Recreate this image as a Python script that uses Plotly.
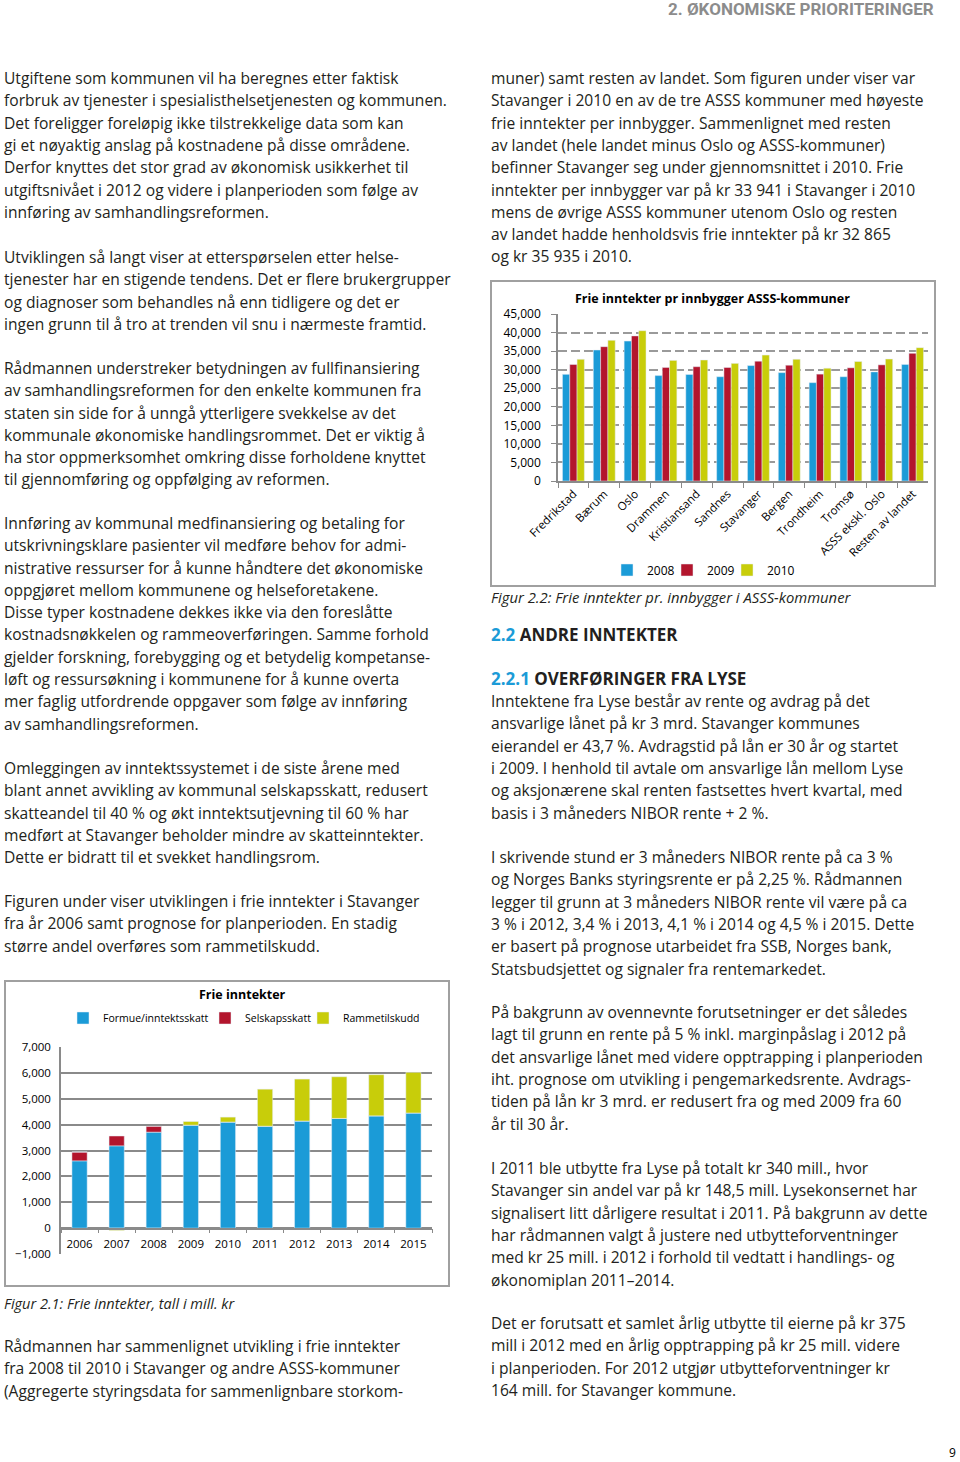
import plotly.graph_objects as go

W, H = 960, 1462
def fx(px): return px / W
def fy(py): return 1 - py / H

BLUE = "#1b9bd7"
RED = "#b3152d"
YEL = "#c8cd0a"
TXT = "#231f20"
BODY_FONT = "Open Sans"
BODY_SIZE = 15.6

# ---------------- Chart 2.1 data: Frie inntekter (mill. kr) ----------------
years1 = ["2006", "2007", "2008", "2009", "2010", "2011", "2012", "2013", "2014", "2015"]
formue = [2600, 3180, 3710, 3980, 4100, 3940, 4140, 4240, 4340, 4450]
selskap = [340, 380, 220, 0, 0, 0, 0, 0, 0, 0]
ramme = [0, -90, -40, 140, 190, 1430, 1620, 1610, 1590, 1570]

# ---------------- Chart 2.2 data: Frie inntekter pr innbygger ----------------
kommuner = ["Fredrikstad", "Bærum", "Oslo", "Drammen", "Kristiansand", "Sandnes",
            "Stavanger", "Bergen", "Trondheim", "Tromsø", "ASSS ekskl. Oslo", "Resten av landet"]
v2008 = [28750, 35300, 37700, 28400, 28700, 28100, 31100, 29200, 26500, 28100, 29400, 31400]
v2009 = [31400, 36200, 39100, 30600, 30800, 30600, 32300, 31200, 28800, 30500, 31300, 34400]
v2010 = [32800, 37900, 40500, 32500, 32600, 31700, 33941, 32800, 30400, 32200, 32865, 35935]

fig = go.Figure()

# Figure 2.1 (stacked) on x2/y2, each trace its own legend for exact placement
for name, vals, col, lg in [("Formue/inntektsskatt", formue, BLUE, "legend2"),
                            ("Selskapsskatt", selskap, RED, "legend3"),
                            ("Rammetilskudd", ramme, YEL, "legend4")]:
    fig.add_trace(go.Bar(x=years1, y=vals, name=name, marker_color=col, width=0.41,
                         xaxis="x2", yaxis="y2", legend=lg))

# Figure 2.2 (grouped) on x/y
for name, vals, col, lg in [("2008", v2008, BLUE, "legend"), ("2009", v2009, RED, "legend5"),
                            ("2010", v2010, YEL, "legend6")]:
    fig.add_trace(go.Bar(x=kommuner, y=vals, name=name, marker_color=col,
                         xaxis="x", yaxis="y", legend=lg, offsetgroup=name))

def legend_at(x, y, size, anchor="left"):
    return dict(orientation="h", x=fx(x), xanchor=anchor, y=fy(y), yanchor="middle",
                font=dict(family="Open Sans", size=size, color="#000"),
                bgcolor="rgba(0,0,0,0)", itemwidth=30, traceorder="normal")

fig.update_layout(
    width=W, height=H, margin=dict(l=0, r=0, t=0, b=0, pad=0),
    paper_bgcolor="white", plot_bgcolor="white",
    font=dict(family=BODY_FONT, color=TXT),
    barmode="relative", bargap=0.29, bargroupgap=0,
    showlegend=True,
    xaxis=dict(domain=[fx(558), fx(928)], anchor="y", type="category", automargin=False,
               tickangle=-45, tickfont=dict(family="Open Sans", size=11.5, color="#000"),
               showgrid=False, showline=True, linecolor="#8a8a8a", linewidth=1.5,
               ticks="outside", tickson="boundaries", ticklen=5, tickcolor="#8a8a8a"),
    yaxis=dict(domain=[fy(481), fy(314)], anchor="x", range=[0, 45000], dtick=5000,
               automargin=False, ticklabelstandoff=8,
               tickformat=",d", tickfont=dict(family="Open Sans", size=12, color="#000"),
               showgrid=True, gridcolor="#9a9a9a", griddash="9px,4px", gridwidth=1.5,
               showline=True, linecolor="#8a8a8a", linewidth=1.5, ticks="outside", ticklen=5,
               tickcolor="#8a8a8a", zeroline=False),
    xaxis2=dict(domain=[fx(61), fx(432)], anchor="free", position=fy(1228.7), type="category",
                automargin=False, ticklabelstandoff=5,
                tickfont=dict(family="Open Sans", size=11.5, color="#000"),
                showgrid=False, showline=True, linecolor="#8a8a8a", linewidth=1.5,
                ticks="outside", tickson="boundaries", ticklen=4, tickcolor="#8a8a8a"),
    yaxis2=dict(domain=[fy(1254), fy(1047)], anchor="x2", range=[-1000, 7000], dtick=1000,
                automargin=False, ticklabelstandoff=6,
                tickformat=",d", tickfont=dict(family="Open Sans", size=11.5, color="#000"),
                showgrid=True, gridcolor="#8a8a8a", gridwidth=1.5,
                showline=True, linecolor="#8a8a8a", linewidth=1.5, ticks="", zeroline=False),
    legend=legend_at(607, 570, 12),
    legend5=legend_at(667, 570, 12),
    legend6=legend_at(727, 570, 12),
    legend2=legend_at(63, 1018, 10.5),
    legend3=legend_at(205, 1018, 10.5),
    legend4=legend_at(303, 1018, 10.5),
)

shapes = [
    dict(type="rect", xref="paper", yref="paper", x0=fx(5), x1=fx(449), y0=fy(1286), y1=fy(981),
         line=dict(color="#a0a0a0", width=2)),
    dict(type="rect", xref="paper", yref="paper", x0=fx(491), x1=fx(935), y0=fy(586), y1=fy(281),
         line=dict(color="#a0a0a0", width=2)),
]
fig.update_layout(shapes=shapes)

ann = []
def line(text, x, y, size=BODY_SIZE, color=TXT, anchor="left", family=BODY_FONT):
    ann.append(dict(text=text, x=fx(x), y=fy(y), xref="paper", yref="paper",
                    xanchor=anchor, yanchor="middle", showarrow=False,
                    font=dict(family=family, size=size, color=color)))

def para(lines, x, y0, step=22.3):
    for i, t in enumerate(lines):
        line(t, x, y0 + i * step)

left = [
    (78, ["Utgiftene som kommunen vil ha beregnes etter faktisk",
          "forbruk av tjenester i spesialisthelsetjenesten og kommunen.",
          "Det foreligger foreløpig ikke tilstrekkelige data som kan",
          "gi et nøyaktig anslag på kostnadene på disse områdene.",
          "Derfor knyttes det stor grad av økonomisk usikkerhet til",
          "utgiftsnivået i 2012 og videre i planperioden som følge av",
          "innføring av samhandlingsreformen."]),
    (257, ["Utviklingen så langt viser at etterspørselen etter helse-",
           "tjenester har en stigende tendens. Det er flere brukergrupper",
           "og diagnoser som behandles nå enn tidligere og det er",
           "ingen grunn til å tro at trenden vil snu i nærmeste framtid."]),
    (368, ["Rådmannen understreker betydningen av fullfinansiering",
           "av samhandlingsreformen for den enkelte kommunen fra",
           "staten sin side for å unngå ytterligere svekkelse av det",
           "kommunale økonomiske handlingsrommet. Det er viktig å",
           "ha stor oppmerksomhet omkring disse forholdene knyttet",
           "til gjennomføring og oppfølging av reformen."]),
    (523, ["Innføring av kommunal medfinansiering og betaling for",
           "utskrivningsklare pasienter vil medføre behov for admi-",
           "nistrative ressurser for å kunne håndtere det økonomiske",
           "oppgjøret mellom kommunene og helseforetakene.",
           "Disse typer kostnadene dekkes ikke via den foreslåtte",
           "kostnadsnøkkelen og rammeoverføringen. Samme forhold",
           "gjelder forskning, forebygging og et betydelig kompetanse-",
           "løft og ressursøkning i kommunene for å kunne overta",
           "mer faglig utfordrende oppgaver som følge av innføring",
           "av samhandlingsreformen."]),
    (768, ["Omleggingen av inntektssystemet i de siste årene med",
           "blant annet avvikling av kommunal selskapsskatt, redusert",
           "skatteandel til 40 % og økt inntektsutjevning til 60 % har",
           "medført at Stavanger beholder mindre av skatteinntekter.",
           "Dette er bidratt til et svekket handlingsrom."]),
    (901, ["Figuren under viser utviklingen i frie inntekter i Stavanger",
           "fra år 2006 samt prognose for planperioden. En stadig",
           "større andel overføres som rammetilskudd."]),
    (1346, ["Rådmannen har sammenlignet utvikling i frie inntekter",
            "fra 2008 til 2010 i Stavanger og andre ASSS-kommuner",
            "(Aggregerte styringsdata for sammenlignbare storkom-"]),
]
right = [
    (78, ["muner) samt resten av landet. Som figuren under viser var",
          "Stavanger i 2010 en av de tre ASSS kommuner med høyeste",
          "frie inntekter per innbygger. Sammenlignet med resten",
          "av landet (hele landet minus Oslo og ASSS-kommuner)",
          "befinner Stavanger seg under gjennomsnittet i 2010. Frie",
          "inntekter per innbygger var på kr 33 941 i Stavanger i 2010",
          "mens de øvrige ASSS kommuner utenom Oslo og resten",
          "av landet hadde henholdsvis frie inntekter på kr 32 865",
          "og kr 35 935 i 2010."]),
    (701, ["Inntektene fra Lyse består av rente og avdrag på det",
           "ansvarlige lånet på kr 3 mrd. Stavanger kommunes",
           "eierandel er 43,7 %. Avdragstid på lån er 30 år og startet",
           "i 2009. I henhold til avtale om ansvarlige lån mellom Lyse",
           "og aksjonærene skal renten fastsettes hvert kvartal, med",
           "basis i 3 måneders NIBOR rente + 2 %."]),
    (857, ["I skrivende stund er 3 måneders NIBOR rente på ca 3 %",
           "og Norges Banks styringsrente er på 2,25 %. Rådmannen",
           "legger til grunn at 3 måneders NIBOR rente vil være på ca",
           "3 % i 2012, 3,4 % i 2013, 4,1 % i 2014 og 4,5 % i 2015. Dette",
           "er basert på prognose utarbeidet fra SSB, Norges bank,",
           "Statsbudsjettet og signaler fra rentemarkedet."]),
    (1012, ["På bakgrunn av ovennevnte forutsetninger er det således",
            "lagt til grunn en rente på 5 % inkl. marginpåslag i 2012 på",
            "det ansvarlige lånet med videre opptrapping i planperioden",
            "iht. prognose om utvikling i pengemarkedsrente. Avdrags-",
            "tiden på lån kr 3 mrd. er redusert fra og med 2009 fra 60",
            "år til 30 år."]),
    (1168, ["I 2011 ble utbytte fra Lyse på totalt kr 340 mill., hvor",
            "Stavanger sin andel var på kr 148,5 mill. Lysekonsernet har",
            "signalisert litt dårligere resultat i 2011. På bakgrunn av dette",
            "har rådmannen valgt å justere ned utbytteforventninger",
            "med kr 25 mill. i 2012 i forhold til vedtatt i handlings- og",
            "økonomiplan 2011–2014."]),
    (1323, ["Det er forutsatt et samlet årlig utbytte til eierne på kr 375",
            "mill i 2012 med en årlig opptrapping på kr 25 mill. videre",
            "i planperioden. For 2012 utgjør utbytteforventninger kr",
            "164 mill. for Stavanger kommune."]),
]
for y0, ls in left:
    para(ls, 2, y0)
for y0, ls in right:
    para(ls, 489, y0)

# captions
line("<i>Figur 2.1: Frie inntekter, tall i mill. kr</i>", 2, 1303, size=14.5)
line("<i>Figur 2.2: Frie inntekter pr. innbygger i ASSS-kommuner</i>", 489, 597, size=14.8)

# headings
line("<b><span style='color:#1b9bd7'>2.2</span> ANDRE INNTEKTER</b>", 489, 634, size=17)
line("<b><span style='color:#1b9bd7'>2.2.1</span> OVERFØRINGER FRA LYSE</b>", 489, 678, size=17)

# chart titles
line("<b>Frie inntekter</b>", 242, 994, size=12.5, color="#000", anchor="center")
line("<b>Frie inntekter pr innbygger ASSS-kommuner</b>", 712, 298, size=12.5, color="#000",
     anchor="center")

# page header / number
line("<b>2. ØKONOMISKE PRIORITERINGER</b>", 936, 9, size=17, color="#8c8c8c", anchor="right",
     family="Roboto")
line("9", 952, 1452, size=12, color="#000", anchor="center")

fig.update_layout(annotations=ann)
fig.write_html("out.html", config={"displayModeBar": False},
               post_script="document.body.style.margin='0';document.body.style.overflow='hidden';")
